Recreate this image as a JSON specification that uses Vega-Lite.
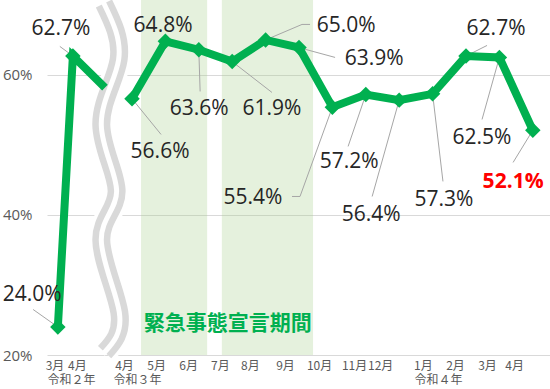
{
  "$schema": "https://vega.github.io/schema/vega-lite/v6.json",
  "width": 503,
  "height": 355,
  "autosize": {"type": "none"},
  "padding": {"left": 47, "top": 0, "right": 0, "bottom": 34},
  "background": "white",
  "config": {"view": {"stroke": null}},
  "datasets": {
    "main": [
      {"period": "R2", "name": "令和2年3月", "pos": -2.22, "pct": 24.0, "label": "24.0%", "lpos": -2.99, "lpct": 28.64, "epos": -2.96, "epct": 26.5},
      {"period": "R2", "name": "令和2年4月", "pos": -1.77, "pct": 62.7, "label": "62.7%", "lpos": -2.13, "lpct": 66.5, "epos": -2.16, "epct": 64.07},
      {"period": "R2", "name": null, "pos": -0.81, "pct": 58.2},
      {"period": "R3", "name": "令和3年4月", "pos": 0, "pct": 56.6, "label": "56.6%", "lpos": 0.84, "lpct": 48.93, "epos": 0.87, "epct": 51.5},
      {"period": "R3", "name": "令和3年5月", "pos": 1, "pct": 64.8, "label": "64.8%", "lpos": 0.93, "lpct": 66.93},
      {"period": "R3", "name": "令和3年6月", "pos": 2, "pct": 63.6, "label": "63.6%", "lpos": 2.01, "lpct": 55.07, "epos": 2.04, "epct": 57.64},
      {"period": "R3", "name": "令和3年7月", "pos": 3, "pct": 61.9, "label": "61.9%", "lpos": 4.19, "lpct": 55.07, "epos": 4.19, "epct": 57.5},
      {"period": "R3", "name": "令和3年8月", "pos": 4, "pct": 65.0, "label": "65.0%", "lpos": 6.41, "lpct": 66.93, "epos": 5.09, "epct": 67.21},
      {"period": "R3", "name": "令和3年9月", "pos": 5, "pct": 63.9, "label": "63.9%", "lpos": 7.25, "lpct": 62.21, "epos": 6.08, "epct": 62.5},
      {"period": "R3", "name": "令和3年10月", "pos": 6, "pct": 55.4, "label": "55.4%", "lpos": 3.62, "lpct": 42.36, "epos": 5.03, "epct": 42.64},
      {"period": "R3", "name": "令和3年11月", "pos": 7, "pct": 57.2, "label": "57.2%", "lpos": 6.5, "lpct": 47.5, "epos": 6.47, "epct": 49.79},
      {"period": "R3", "name": "令和3年12月", "pos": 8, "pct": 56.4, "label": "56.4%", "lpos": 7.16, "lpct": 39.93, "epos": 7.19, "epct": 42.64},
      {"period": "R3", "name": "令和4年1月", "pos": 9, "pct": 57.3, "label": "57.3%", "lpos": 9.34, "lpct": 42.07, "epos": 9.31, "epct": 44.79},
      {"period": "R3", "name": "令和4年2月", "pos": 10, "pct": 62.7, "label": "62.7%", "lpos": 10.9, "lpct": 66.5, "epos": 10.63, "epct": 64.21},
      {"period": "R3", "name": "令和4年3月", "pos": 11, "pct": 62.5, "label": "62.5%", "lpos": 10.48, "lpct": 50.93, "epos": 10.48, "epct": 53.64},
      {"period": "R3", "name": "令和4年4月", "pos": 12, "pct": 52.1, "label": "52.1%", "lpos": 11.41, "lpct": 44.64, "epos": 11.41, "epct": 47.5, "latest": true}
    ],
    "bands": [
      {"pos": 0.27, "pos2": 2.25, "pct": 20, "pct2": 70.7},
      {"pos": 2.69, "pos2": 5.42, "pct": 20, "pct2": 70.7}
    ],
    "wave": [
      {"pos": -0.84, "pct": 70.2},
      {"pos": -0.4, "pct": 62.2},
      {"pos": -0.92, "pct": 52.9},
      {"pos": -0.46, "pct": 43.4},
      {"pos": -0.92, "pct": 36.5},
      {"pos": -0.38, "pct": 26.1},
      {"pos": -0.82, "pct": 20.4}
    ],
    "elbows": [
      {"pos": 5.09, "pct": 67.21, "pos2": 5.33, "pct2": 67.21},
      {"pos": 5.03, "pct": 42.64, "pos2": 4.79, "pct2": 42.64}
    ],
    "notes": [
      {"pos": 2.87, "pct": 24.36, "text": "緊急事態宣言期間"}
    ]
  },
  "encoding": {
    "x": {
      "field": "pos", "type": "quantitative", "title": null,
      "scale": {"domain": [-2.545, 12.515], "nice": false, "zero": false},
      "axis": {
        "domain": false, "ticks": false, "grid": false,
        "values": [-2.32, -1.83, -1.65, -0.24, 0.15, 0.72, 1.68, 2.63, 3.53, 4.58, 5.6, 6.65, 7.43, 8.71, 9.16, 9.67, 10.63, 11.44],
        "labelExpr": "{'-2.32':'3月','-1.83':[' ','令和２年'],'-1.65':'4月','-0.24':'4月','0.15':[' ','令和３年'],'0.72':'5月','1.68':'6月','2.63':'7月','3.53':'8月','4.58':'9月','5.6':'10月','6.65':'11月','7.43':'12月','8.71':'1月','9.16':[' ','令和４年'],'9.67':'2月','10.63':'3月','11.44':'4月'}[datum.value]",
        "labelFont": "Noto Sans CJK JP", "labelFontSize": 12, "labelColor": "#595959",
        "labelPadding": 5, "labelBaseline": "top", "labelLineHeight": 14,
        "labelOverlap": false, "labelFlush": false, "labelBound": false
      }
    },
    "y": {
      "field": "pct", "type": "quantitative", "title": null,
      "scale": {"domain": [20, 70.7], "nice": false, "zero": false},
      "axis": {
        "domain": false, "ticks": false, "grid": true, "gridColor": "#d9d9d9", "gridWidth": 1,
        "values": [20, 40, 60],
        "labelExpr": "datum.value + '%'",
        "labelFont": "Open Sans", "labelFontSize": 15, "labelColor": "#595959",
        "labelPadding": 15
      }
    }
  },
  "layer": [
    {
      "data": {"name": "bands"},
      "mark": {"type": "rect", "color": "#a9d18e", "opacity": 0.3},
      "encoding": {"x2": {"field": "pos2"}, "y2": {"field": "pct2"}}
    },
    {
      "data": {"name": "wave"},
      "mark": {"type": "line", "color": "white", "strokeWidth": 25, "interpolate": "natural", "strokeCap": "butt"},
      "encoding": {"order": {"field": "pct", "sort": "descending"}}
    },
    {
      "data": {"name": "wave"},
      "mark": {"type": "line", "color": "#d9d9d9", "strokeWidth": 18, "interpolate": "natural", "strokeCap": "butt"},
      "encoding": {"order": {"field": "pct", "sort": "descending"}}
    },
    {
      "data": {"name": "wave"},
      "mark": {"type": "line", "color": "white", "strokeWidth": 5, "interpolate": "natural", "strokeCap": "square"},
      "encoding": {"order": {"field": "pct", "sort": "descending"}}
    },
    {
      "data": {"name": "main"},
      "transform": [{"filter": "isValid(datum.epos)"}],
      "mark": {"type": "rule", "color": "#a6a6a6", "strokeWidth": 1},
      "encoding": {"x2": {"field": "epos"}, "y2": {"field": "epct"}}
    },
    {
      "data": {"name": "elbows"},
      "mark": {"type": "rule", "color": "#a6a6a6", "strokeWidth": 1},
      "encoding": {"x2": {"field": "pos2"}, "y2": {"field": "pct2"}}
    },
    {
      "data": {"name": "main"},
      "mark": {"type": "line", "color": "#00b050", "strokeWidth": 8, "strokeCap": "butt", "strokeJoin": "miter"},
      "encoding": {"detail": {"field": "period"}}
    },
    {
      "data": {"name": "main"},
      "transform": [{"filter": "isValid(datum.label)"}],
      "mark": {"type": "point", "shape": "diamond", "filled": true, "color": "#00b050", "size": 240, "opacity": 1}
    },
    {
      "data": {"name": "main"},
      "transform": [{"filter": "isValid(datum.label) && !datum.latest"}],
      "mark": {"type": "text", "font": "Open Sans", "fontSize": 21, "color": "#262626", "align": "center", "baseline": "middle"},
      "encoding": {
        "x": {"field": "lpos", "type": "quantitative", "title": null},
        "y": {"field": "lpct", "type": "quantitative", "title": null},
        "text": {"field": "label"}
      }
    },
    {
      "data": {"name": "main"},
      "transform": [{"filter": "datum.latest === true"}],
      "mark": {"type": "text", "font": "Open Sans", "fontSize": 21, "fontWeight": "bold", "color": "#ff0000", "align": "center", "baseline": "middle"},
      "encoding": {
        "x": {"field": "lpos", "type": "quantitative", "title": null},
        "y": {"field": "lpct", "type": "quantitative", "title": null},
        "text": {"field": "label"}
      }
    },
    {
      "data": {"name": "notes"},
      "mark": {"type": "text", "font": "Noto Sans CJK JP", "fontSize": 21, "fontWeight": "bold", "color": "#00b050", "align": "center", "baseline": "middle"},
      "encoding": {"text": {"field": "text"}}
    }
  ]
}
